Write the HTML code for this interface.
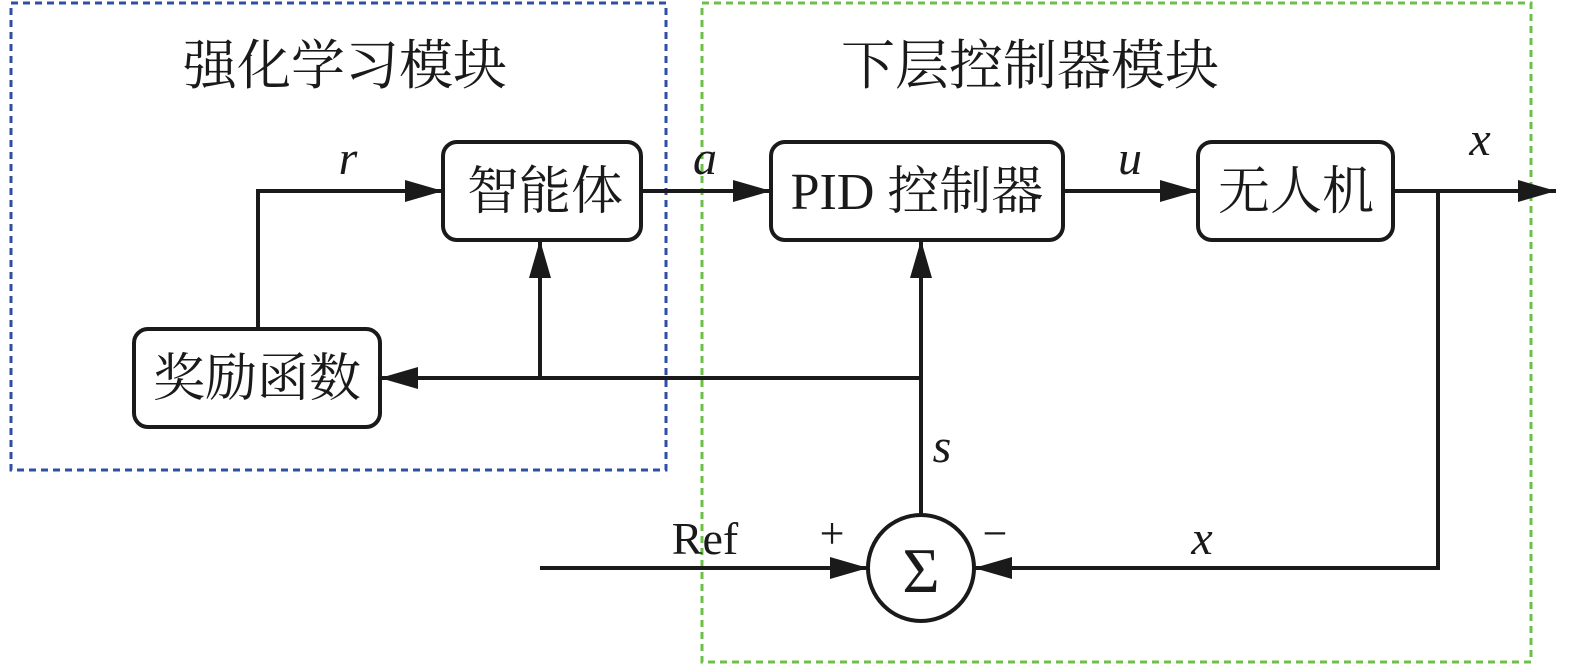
<!DOCTYPE html>
<html><head><meta charset="utf-8"><style>html,body{margin:0;padding:0;background:#fff}svg{display:block}</style></head><body>
<svg width="1575" height="666" viewBox="0 0 1575 666" xmlns="http://www.w3.org/2000/svg">
<defs><marker id="ar" markerWidth="38" markerHeight="22" refX="38" refY="11" orient="auto" markerUnits="userSpaceOnUse"><path d="M0,0 L38,11 L0,22 Z" fill="#1a1a1a"/></marker></defs>
<rect x="11" y="3" width="655" height="467" fill="none" stroke="#2e4fa3" stroke-width="3" stroke-dasharray="7,5"/>
<rect x="702" y="3" width="829" height="659" fill="none" stroke="#6cc04a" stroke-width="3" stroke-dasharray="7,5"/>
<g font-family="'Liberation Serif','Noto Serif CJK SC',serif" fill="#1a1a1a">
<text x="345" y="84" font-size="54" text-anchor="middle">强化学习模块</text>
<text x="1030" y="84" font-size="54" text-anchor="middle">下层控制器模块</text>
</g>
<g fill="none" stroke="#1a1a1a" stroke-width="4">
<rect x="443" y="142" width="198" height="98" rx="14"/>
<rect x="771" y="142" width="292" height="98" rx="14"/>
<rect x="1198" y="142" width="195" height="98" rx="14"/>
<rect x="134" y="329" width="246" height="98" rx="14"/>
<circle cx="921" cy="568" r="53"/>
<polyline points="258,329 258,191 443,191" marker-end="url(#ar)"/>
<line x1="641" y1="191" x2="771" y2="191" marker-end="url(#ar)"/>
<line x1="1063" y1="191" x2="1198" y2="191" marker-end="url(#ar)"/>
<line x1="1393" y1="191" x2="1556" y2="191" marker-end="url(#ar)"/>
<polyline points="1438,191 1438,568 974,568" marker-end="url(#ar)"/>
<line x1="540" y1="568" x2="868" y2="568" marker-end="url(#ar)"/>
<line x1="921" y1="515" x2="921" y2="240" marker-end="url(#ar)"/>
<line x1="921" y1="378" x2="380" y2="378" marker-end="url(#ar)"/>
<line x1="540" y1="378" x2="540" y2="240" marker-end="url(#ar)"/>
</g>
<g font-family="'Liberation Serif','Noto Serif CJK SC',serif" fill="#1a1a1a" font-size="52">
<text x="545" y="209" text-anchor="middle">智能体</text>
<text x="917" y="209" text-anchor="middle">PID 控制器</text>
<text x="1296" y="209" text-anchor="middle">无人机</text>
<text x="257" y="396" text-anchor="middle">奖励函数</text>
<text x="705" y="554" text-anchor="middle" font-size="46">Ref</text>
<text x="832" y="548" text-anchor="middle" font-size="44">+</text>
<text x="995" y="548" text-anchor="middle" font-size="44">−</text>
<text x="921" y="592" text-anchor="middle" font-size="64">Σ</text>
<g font-style="italic" font-size="48">
<text x="348" y="174" text-anchor="middle">r</text>
<text x="705" y="174" text-anchor="middle">a</text>
<text x="1130" y="174" text-anchor="middle">u</text>
<text x="1480" y="155" text-anchor="middle">x</text>
<text x="942" y="462" text-anchor="middle">s</text>
<text x="1202" y="554" text-anchor="middle">x</text>
</g>
</g>
</svg>
</body></html>
